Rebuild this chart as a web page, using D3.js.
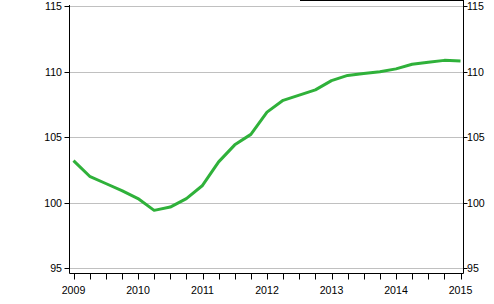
<!DOCTYPE html>
<html><head><meta charset="utf-8">
<script src="https://cdn.jsdelivr.net/npm/d3@7"></script>
<style>body{margin:0;background:#fff}svg{display:block}text{font-family:"Liberation Sans",Arial,sans-serif;font-size:10.6px;fill:#000}</style>
</head><body><svg id="c" width="494" height="304"></svg>
<script>
const quarters = ["2009Q1","2009Q2","2009Q3","2009Q4","2010Q1","2010Q2","2010Q3","2010Q4","2011Q1","2011Q2","2011Q3","2011Q4","2012Q1","2012Q2","2012Q3","2012Q4","2013Q1","2013Q2","2013Q3","2013Q4","2014Q1","2014Q2","2014Q3","2014Q4","2015Q1"];
const values = [103.2,102.0,101.45,100.9,100.3,99.4,99.65,100.3,101.3,103.1,104.4,105.2,106.9,107.8,108.2,108.6,109.3,109.7,109.85,109.98,110.2,110.55,110.7,110.85,110.8];
const yTicks = [95,100,105,110,115];
const yearLabels = ["2009","2010","2011","2012","2013","2014","2015"];

const svg = d3.select("#c");
const L = 69.5, R = 463.5, T = 6, B = 268, AX = 273.5;
const t = q => +q.slice(0,4) + (+q.slice(5)-1)/4;
const x = d3.scaleLinear().domain([2009,2015]).range([73.5,460.5]);
const y = d3.scaleLinear().domain([95,115]).range([B,T]);

// gridlines
svg.append("g").selectAll("line").data(yTicks).join("line")
  .attr("x1",L).attr("x2",R).attr("y1",d=>Math.round(y(d))+0.5).attr("y2",d=>Math.round(y(d))+0.5)
  .attr("stroke","#c0c0c0").attr("stroke-width",1);

// axes lines
svg.append("line").attr("x1",L).attr("x2",L).attr("y1",5).attr("y2",AX).attr("stroke","#000");
svg.append("line").attr("x1",R).attr("x2",R).attr("y1",0).attr("y2",AX).attr("stroke","#000");
svg.append("line").attr("x1",L).attr("x2",R).attr("y1",AX).attr("y2",AX).attr("stroke","#000");
svg.append("line").attr("x1",300).attr("x2",R).attr("y1",0.5).attr("y2",0.5).attr("stroke","#000");

// y ticks & labels
const yt = svg.append("g").selectAll("g").data(yTicks).join("g")
  .attr("transform",d=>`translate(0,${Math.round(y(d))+0.5})`);
yt.append("line").attr("x1",L-5).attr("x2",L).attr("stroke","#000");
yt.append("line").attr("x1",R).attr("x2",R+4).attr("stroke","#000");
yt.append("text").attr("x",62).attr("dy","0.35em").attr("text-anchor","end").text(d=>d);
yt.append("text").attr("x",467).attr("dy","0.35em").text(d=>d);

// x ticks
const xt = d3.range(2009,2015.01,0.25);
svg.append("g").selectAll("line").data(xt).join("line")
  .attr("x1",d=>Math.round(x(d))+0.5).attr("x2",d=>Math.round(x(d))+0.5)
  .attr("y1",AX).attr("y2",AX+6).attr("stroke","#000");
svg.append("g").selectAll("text").data(yearLabels).join("text")
  .attr("x",d=>x(+d)).attr("y",293.5).attr("text-anchor","middle").text(d=>d);

// line
svg.append("path").datum(quarters.map((q,i)=>[t(q),values[i]]))
  .attr("d",d3.line().x(d=>x(d[0])).y(d=>y(d[1])))
  .attr("fill","none").attr("stroke","#2fb13a").attr("stroke-width",3).attr("stroke-linejoin","round");
</script></body></html>
